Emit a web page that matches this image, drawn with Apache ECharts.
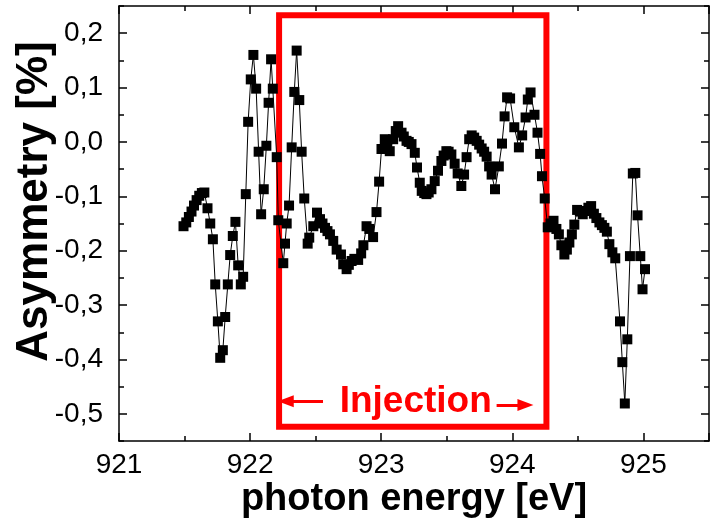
<!DOCTYPE html>
<html>
<head>
<meta charset="utf-8">
<script src="https://cdn.jsdelivr.net/npm/echarts@6/dist/echarts.min.js"></script>
<style>html,body{margin:0;padding:0;background:#fff}#chart{width:710px;height:527px}</style>
</head>
<body>
<div id="chart"></div>
<script>
// photon energy [eV]
const energy = [
921.492,921.513,921.533,921.553,921.572,921.592,921.612,921.632,921.651,921.675,
921.696,921.716,921.734,921.754,921.772,921.792,921.810,921.830,921.848,921.868,
921.888,921.909,921.929,921.947,921.967,921.985,922.005,922.025,922.046,922.065,
922.084,922.104,922.124,922.141,922.160,922.173,922.203,922.215,922.253,922.266,
922.279,922.297,922.317,922.337,922.355,922.375,922.393,922.413,922.439,922.451,
922.482,922.510,922.533,922.552,922.571,922.590,922.609,922.634,922.660,922.693,
922.710,922.736,922.753,922.774,922.795,922.824,922.847,922.864,922.888,922.909,
922.938,922.964,922.984,923.002,923.027,923.046,923.065,923.091,923.111,923.129,
923.155,923.172,923.193,923.210,923.231,923.256,923.273,923.294,923.309,923.328,
923.345,923.362,923.383,923.408,923.433,923.459,923.476,923.497,923.514,923.535,
923.560,923.583,923.611,923.632,923.651,923.671,923.690,923.709,923.728,923.747,
923.766,923.785,923.804,923.823,923.842,923.868,923.897,923.921,923.941,923.960,
923.983,924.015,924.050,924.075,924.101,924.118,924.139,924.169,924.192,924.212,
924.226,924.247,924.270,924.291,924.314,924.336,924.355,924.374,924.397,924.416,
924.435,924.454,924.473,924.494,924.515,924.537,924.557,924.580,924.601,924.622,
924.641,924.664,924.683,924.702,924.721,924.740,924.763,924.785,924.821,924.839,
924.858,924.877,924.897,924.919,924.938,924.955,924.976,924.993,925.012
];
// Asymmetry [%]
const asymmetry = [
-0.155,-0.148,-0.138,-0.128,-0.117,-0.107,-0.099,-0.094,-0.093,-0.122,
-0.150,-0.179,-0.262,-0.330,-0.397,-0.383,-0.322,-0.262,-0.208,-0.173,
-0.147,-0.227,-0.262,-0.248,-0.096,0.037,0.115,0.160,0.098,-0.018,
-0.133,-0.087,-0.007,0.072,0.152,0.098,-0.028,-0.144,-0.223,-0.187,
-0.150,-0.117,-0.010,0.092,0.168,0.077,-0.018,-0.104,-0.187,-0.176,
-0.155,-0.130,-0.142,-0.150,-0.158,-0.164,-0.170,-0.182,-0.198,-0.207,
-0.225,-0.234,-0.226,-0.219,-0.215,-0.217,-0.205,-0.190,-0.155,-0.160,
-0.175,-0.129,-0.073,-0.013,0.005,-0.005,-0.017,0.005,0.020,0.029,
0.017,0.010,0.002,0.000,-0.004,-0.020,-0.047,-0.075,-0.090,-0.094,
-0.096,-0.093,-0.087,-0.072,-0.053,-0.035,-0.025,-0.017,-0.018,-0.023,
-0.040,-0.058,-0.081,-0.060,-0.028,0.005,0.012,0.008,0.002,-0.005,
-0.012,-0.018,-0.027,-0.045,-0.060,-0.087,-0.045,-0.003,0.047,0.082,
0.080,0.027,-0.010,0.012,0.045,0.078,0.091,0.050,0.017,-0.022,
-0.063,-0.104,-0.157,-0.150,-0.145,-0.160,-0.170,-0.190,-0.207,-0.198,
-0.185,-0.170,-0.152,-0.125,-0.128,-0.133,-0.127,-0.121,-0.118,-0.132,
-0.140,-0.148,-0.153,-0.158,-0.165,-0.188,-0.203,-0.214,-0.330,-0.405,
-0.481,-0.363,-0.210,-0.058,-0.057,-0.135,-0.210,-0.271,-0.234
];
// axis ranges and ticks
const xRange = [921, 925.5];
const xStep = 1;
const yRange = [-0.55, 0.25];
const yMinorStep = 0.05;
const yMajorTicks = [-0.5, -0.4, -0.3, -0.2, -0.1, 0.0, 0.1, 0.2];
// annotation (data coordinates)
const injectionBox = [[922.221, 0.233], [924.260, -0.524]];
const arrowLeft = [[922.556, -0.477], [922.272, -0.477]];
const arrowRight = [[923.880, -0.484], [924.100, -0.484]];
const injectionLabelAt = [923.263, -0.478];
const injectionText = 'Injection';
const xTitle = 'photon energy [eV]';
const yTitle = 'Asymmetry [%]';

const FONT = "'Liberation Sans', Arial, sans-serif";
const tickStyle = (len) => ({show: true, inside: true, length: len, lineStyle: {color: '#000', width: 1.5}});
const minorStyle = (n) => ({show: true, splitNumber: n, length: 5, lineStyle: {color: '#000', width: 1.5}});
const lineStyle = {show: true, onZero: false, lineStyle: {color: '#000', width: 1.5}};

function fmtX(v) {
  return Math.abs(v - Math.round(v)) < 1e-6 ? String(Math.round(v)) : '';
}
function fmtY(v) {
  const t = v * 10;
  if (Math.abs(t - Math.round(t)) > 1e-6) return '';
  let r = Math.round(t) / 10;
  if (Math.abs(r) < 1e-9) r = 0;
  return r.toFixed(1).replace('.', ',');
}

const yBase = {
  type: 'value', min: yRange[0], max: yRange[1], interval: yMinorStep,
  splitLine: {show: false}
};

const chart = echarts.init(document.getElementById('chart'), null, {renderer: 'canvas'});
chart.setOption({
  animation: false,
  backgroundColor: '#fff',
  grid: {left: 119, right: 1, top: 6, bottom: 86, containLabel: false, outerBoundsMode: 'none'},
  xAxis: [{
    type: 'value', min: xRange[0], max: xRange[1], interval: xStep,
    position: 'bottom',
    axisLine: lineStyle, axisTick: tickStyle(8), minorTick: minorStyle(2),
    splitLine: {show: false},
    axisLabel: {formatter: fmtX, color: '#000', fontSize: 28, fontFamily: FONT, margin: 10, showMaxLabel: false},
    name: xTitle, nameLocation: 'middle', nameGap: 40, nameMoveOverlap: false,
    nameTextStyle: {color: '#000', fontSize: 38, fontWeight: 'bold', fontFamily: FONT}
  }, {
    type: 'value', min: xRange[0], max: xRange[1], interval: xStep,
    position: 'top',
    axisLine: lineStyle, axisTick: tickStyle(8), minorTick: minorStyle(2),
    splitLine: {show: false}, axisLabel: {show: false}
  }],
  yAxis: [Object.assign({}, yBase, {
    position: 'left',
    axisLine: lineStyle,
    axisTick: Object.assign(tickStyle(8), {customValues: yMajorTicks}),
    axisLabel: {customValues: yMajorTicks, formatter: fmtY, color: '#000', fontSize: 28, fontFamily: FONT, margin: 16},
    name: yTitle, nameLocation: 'middle', nameGap: 62, nameMoveOverlap: false,
    nameTextStyle: {color: '#000', fontSize: 44, fontWeight: 'bold', fontFamily: FONT, padding: [0, 0, 0, 44]}
  }), Object.assign({}, yBase, {
    position: 'right',
    axisLine: lineStyle,
    axisTick: Object.assign(tickStyle(8), {customValues: yMajorTicks}),
    axisLabel: {show: false}
  }), Object.assign({}, yBase, {
    position: 'left',
    axisLine: {show: false},
    axisTick: tickStyle(5),
    axisLabel: {show: false}
  }), Object.assign({}, yBase, {
    position: 'right',
    axisLine: {show: false},
    axisTick: tickStyle(5),
    axisLabel: {show: false}
  })],
  series: [{
    type: 'line',
    xAxisIndex: 0, yAxisIndex: 0,
    data: energy.map((x, i) => [x, asymmetry[i]]),
    symbol: 'rect', symbolSize: 10, showAllSymbol: true,
    itemStyle: {color: '#000'},
    lineStyle: {color: '#000', width: 1},
    z: 5,
    markArea: {
      silent: true,
      itemStyle: {color: 'rgba(0,0,0,0)', borderColor: '#ff0000', borderWidth: 6},
      data: [[{coord: injectionBox[0]}, {coord: injectionBox[1]}]]
    },
    markLine: {
      silent: true,
      symbol: ['none', 'triangle'], symbolSize: [12, 16],
      lineStyle: {color: '#ff0000', width: 3, type: 'solid'},
      label: {show: false},
      data: [
        [{coord: arrowLeft[0]}, {coord: arrowLeft[1]}],
        [{coord: arrowRight[0]}, {coord: arrowRight[1]}]
      ]
    },
    markPoint: {
      silent: true,
      symbol: 'circle', symbolSize: 1,
      itemStyle: {color: 'rgba(0,0,0,0)'},
      label: {show: true, position: 'inside', formatter: injectionText, color: '#ff0000', fontSize: 37, fontWeight: 'bold', fontFamily: FONT},
      data: [{coord: injectionLabelAt}]
    }
  }]
});
</script>
</body>
</html>
